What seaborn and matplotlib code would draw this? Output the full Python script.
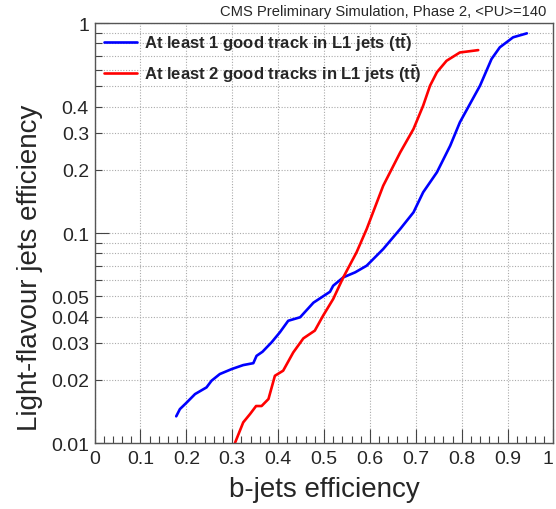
import numpy as np
import pandas as pd
import matplotlib
matplotlib.use("Agg")
import matplotlib.pyplot as plt
import seaborn as sns
from matplotlib.ticker import MultipleLocator, LogLocator, FuncFormatter

# ---- data ----
blue_label = r"At least 1 good track in L1 jets (t$\mathbf{\bar{t}}$)"
red_label = r"At least 2 good tracks in L1 jets (t$\mathbf{\bar{t}}$)"

blue_b = [0.178, 0.186, 0.201, 0.219, 0.244, 0.255, 0.273, 0.299, 0.324, 0.346, 0.353,
          0.366, 0.386, 0.404, 0.422, 0.448, 0.477, 0.513, 0.520, 0.542, 0.568, 0.593,
          0.629, 0.666, 0.695, 0.716, 0.746, 0.775, 0.796, 0.840, 0.865, 0.883, 0.912, 0.942]
blue_l = [0.0134, 0.0145, 0.0156, 0.0171, 0.0184, 0.0198, 0.0213, 0.0225, 0.0235, 0.0240, 0.0260,
          0.0272, 0.0302, 0.0337, 0.0382, 0.0397, 0.0466, 0.0525, 0.0561, 0.0615, 0.0650, 0.0699,
          0.0839, 0.1045, 0.1255, 0.1563, 0.1946, 0.2606, 0.3366, 0.5036, 0.674, 0.766, 0.855, 0.893]

red_b = [0.306, 0.324, 0.339, 0.352, 0.364, 0.379, 0.393, 0.411, 0.433, 0.455, 0.480, 0.498,
         0.520, 0.542, 0.571, 0.593, 0.629, 0.666, 0.695, 0.716, 0.731, 0.746, 0.767, 0.796, 0.836]
red_l = [0.0100, 0.01254, 0.01375, 0.0150, 0.0150, 0.0162, 0.0209, 0.0221, 0.0270, 0.0315, 0.0343, 0.0404,
         0.0485, 0.0615, 0.081, 0.1045, 0.168, 0.242, 0.313, 0.404, 0.503, 0.583, 0.661, 0.724, 0.743]

ytick_labelled = [0.01, 0.02, 0.03, 0.04, 0.05, 0.1, 0.2, 0.3, 0.4, 1.0]

df = pd.concat([
    pd.DataFrame({"b": blue_b, "l": blue_l, "series": blue_label}),
    pd.DataFrame({"b": red_b, "l": red_l, "series": red_label}),
], ignore_index=True)

sns.set_style("white")
plt.rcParams["font.family"] = ["Liberation Sans", "DejaVu Sans"]
plt.rcParams["mathtext.fontset"] = "custom"
plt.rcParams["mathtext.rm"] = "Liberation Sans"
plt.rcParams["mathtext.bf"] = "Liberation Sans:bold"
plt.rcParams["mathtext.it"] = "Liberation Sans:italic"

fig = plt.figure(figsize=(5.56, 5.10), dpi=100)
ax = fig.add_axes([0.170, 0.1294, 0.8255, 0.8235])

sns.lineplot(data=df, x="b", y="l", hue="series", palette=["#0000ff", "#ff0000"],
             estimator=None, sort=False, linewidth=1.9, ax=ax, legend=True)

ax.set_yscale("log")
ax.set_xlim(0, 1)
ax.set_ylim(0.01, 1)

ax.xaxis.set_major_locator(MultipleLocator(0.1))
ax.xaxis.set_minor_locator(MultipleLocator(0.02))
ax.xaxis.set_major_formatter(FuncFormatter(lambda v, p: "%g" % round(v, 2)))
ax.yaxis.set_major_locator(LogLocator(base=10, numticks=5))
ax.yaxis.set_minor_locator(LogLocator(base=10, subs=np.arange(2, 10), numticks=20))

def yfmt(v, p):
    for t in ytick_labelled:
        if abs(v - t) / t < 1e-3:
            return "%g" % t
    return ""

ax.yaxis.set_major_formatter(FuncFormatter(yfmt))
ax.yaxis.set_minor_formatter(FuncFormatter(yfmt))

ax.tick_params(axis="both", which="both", direction="in", labelsize=14, color="#444444",
               bottom=True, left=True, top=False, right=False)
ax.tick_params(axis="both", which="major", length=10, width=0.8)
ax.tick_params(axis="both", which="minor", length=5, width=0.8)
ax.tick_params(axis="x", which="both", pad=5)
ax.tick_params(axis="y", which="both", pad=4)

ax.grid(True, which="major", axis="x", linestyle=(0, (1, 1.5)), color="#aaaaaa", linewidth=0.8)
ax.grid(True, which="both", axis="y", linestyle=(0, (1, 1.5)), color="#aaaaaa", linewidth=0.8)

for s in ax.spines.values():
    s.set_color("#555555")
    s.set_linewidth(1.0)

ax.set_xlabel("b-jets efficiency", fontsize=20)
ax.set_ylabel("Light-flavour jets efficiency", fontsize=20)
ax.xaxis.set_label_coords(0.5, -0.078)
ax.yaxis.set_label_coords(-0.112, 0.42)

fig.text(0.982, 0.963, "CMS Preliminary Simulation, Phase 2, <PU>=140",
         ha="right", va="bottom", fontsize=10.6)

leg = ax.legend(loc="upper left", bbox_to_anchor=(-0.008, 1.012), frameon=False,
                prop={"weight": "bold", "size": 12}, handlelength=1.95,
                handletextpad=0.45, labelspacing=0.55, borderaxespad=0.4)
for line in leg.get_lines():
    line.set_linewidth(1.9)

fig.canvas.draw()
for lab in ax.get_xticklabels():
    if lab.get_text() == "1":
        lab.set_horizontalalignment("right")

fig.savefig("out.png", dpi=100)
